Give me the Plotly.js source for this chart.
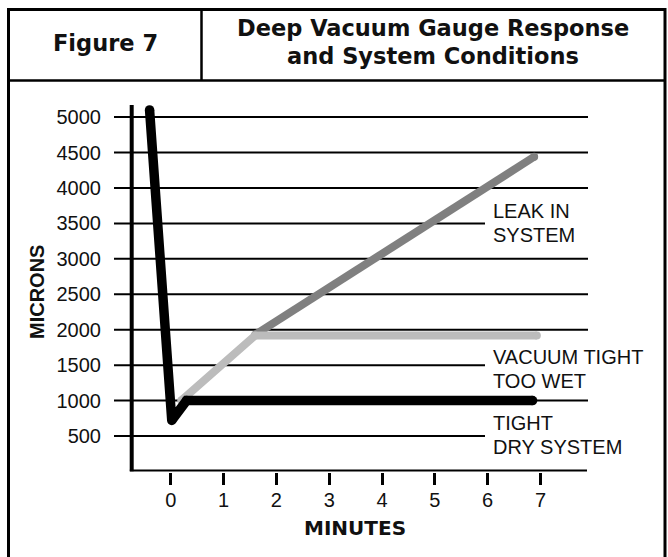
<!DOCTYPE html>
<html>
<head>
<meta charset="utf-8">
<script src="https://cdn.plot.ly/plotly-3.0.1.min.js"></script>
<style>html,body{margin:0;padding:0;background:#fff;}#chart{width:668px;height:557px;}</style>
</head>
<body>
<div id="chart"></div>
<script>
// ---- data ----
const xTickVals = [0, 1, 2, 3, 4, 5, 6, 7];
const yTickVals = [500, 1000, 1500, 2000, 2500, 3000, 3500, 4000, 4500, 5000];
const shortGridVals = [500, 1500, 3500];

const tightX = [-0.40, 0.02, 0.30, 6.85];
const tightY = [5100, 720, 1000, 1000];

const wetX = [0.20, 1.60, 6.93];
const wetY = [1000, 1920, 1920];

const leakX = [1.60, 6.88];
const leakY = [1930, 4440];

const leakLabel = ["LEAK IN", "SYSTEM"];
const wetLabel = ["VACUUM TIGHT", "TOO WET"];
const tightLabel = ["TIGHT", "DRY SYSTEM"];

const figureLabel = "Figure 7";
const titleLines = ["Deep Vacuum Gauge Response", "and System Conditions"];
const xTitle = "MINUTES";
const yTitle = "MICRONS";

// ---- layout helpers ----
const W = 668, H = 557;
const px = v => v / W;
const py = v => 1 - v / H;
const X0 = 170.7, XS = 52.83;       // pixel of x=0, px per minute
const Y0 = 471.5, YS = 0.070889;    // pixel of y=0, px per micron
const xv = p => (p - X0) / XS;
const yv = p => (Y0 - p) / YS;

const xMin = xv(114), xMax = xv(588), shortEnd = xv(485);
const yAxisX = xv(131.7), yAxisTop = yv(105), xAxisEnd = xv(587);

const bodyFont = "Liberation Sans, Arial, Helvetica, sans-serif";
const headFont = "DejaVu Sans, Verdana, sans-serif";

function lineTrace(x, y, color, width) {
  return {
    x: x, y: y, type: "scatter", mode: "lines+markers",
    line: {color: color, width: width},
    marker: {color: color, size: width, line: {width: 0}},
    hoverinfo: "skip", showlegend: false, cliponaxis: false
  };
}

const traces = [
  lineTrace(leakX, leakY, "#808080", 8),
  lineTrace(wetX, wetY, "#bcbcbc", 8),
  lineTrace(tightX, tightY, "#000000", 9.5)
];

const shapes = [];
// gridlines
yTickVals.forEach(v => {
  shapes.push({type: "line", xref: "x", yref: "y", x0: xMin, x1: shortGridVals.includes(v) ? shortEnd : xMax,
    y0: v, y1: v, line: {color: "#000", width: 2}, layer: "below"});
});
// axis lines
shapes.push({type: "line", xref: "x", yref: "y", x0: yAxisX, x1: yAxisX, y0: 0, y1: yAxisTop,
  line: {color: "#000", width: 4}, layer: "below"});
shapes.push({type: "line", xref: "x", yref: "y", x0: yAxisX - 0.035, x1: xAxisEnd, y0: 0, y1: 0,
  line: {color: "#000", width: 4}, layer: "below"});
// frame
shapes.push({type: "rect", xref: "paper", yref: "paper", x0: px(8.5), x1: px(665), y0: py(9.5), y1: -0.02,
  line: {color: "#000", width: 3}, fillcolor: "rgba(0,0,0,0)", layer: "below"});
shapes.push({type: "line", xref: "paper", yref: "paper", x0: px(8.5), x1: px(665), y0: py(80.5), y1: py(80.5),
  line: {color: "#000", width: 2.5}, layer: "below"});
shapes.push({type: "line", xref: "paper", yref: "paper", x0: px(201.5), x1: px(201.5), y0: py(9.5), y1: py(80.5),
  line: {color: "#000", width: 2.5}, layer: "below"});

const annotations = [];
function ann(text, x, y, font, xanchor, extra) {
  annotations.push(Object.assign({text: text, xref: "paper", yref: "paper", x: px(x), y: py(y),
    xanchor: xanchor || "center", yanchor: "middle", showarrow: false, font: font, borderpad: 0}, extra || {}));
}
const lblFont = {family: bodyFont, size: 20, color: "#111"};
const headF = {family: headFont, size: 22.5, color: "#111"};

ann("<b>" + figureLabel + "</b>", 105.5, 43.5, headF);
ann("<b>" + titleLines[0] + "</b>", 433, 28, headF);
ann("<b>" + titleLines[1] + "</b>", 433, 56, headF);

ann(leakLabel[0], 492, 211.5, lblFont, "left");
ann(leakLabel[1], 492, 234.5, lblFont, "left");
ann(wetLabel[0], 492, 356.5, lblFont, "left");
ann(wetLabel[1], 492, 380.5, lblFont, "left");
ann(tightLabel[0], 492, 422.5, lblFont, "left");
ann(tightLabel[1], 492, 446.5, lblFont, "left");

ann("<b>" + xTitle + "</b>", 355, 527.5, {family: headFont, size: 20, color: "#111"});
ann("<b>" + yTitle + "</b>", 37, 292, {family: bodyFont, size: 20, color: "#111"}, "center", {textangle: -90});

const layout = {
  width: W, height: H,
  margin: {l: 0, r: 0, t: 0, b: 0},
  paper_bgcolor: "#fff", plot_bgcolor: "rgba(0,0,0,0)",
  xaxis: {
    domain: [px(114), px(588)], range: [xMin, xMax],
    tickvals: xTickVals, ticktext: xTickVals.map(String),
    ticks: "outside", ticklen: 12, tickwidth: 3, tickcolor: "#000",
    showgrid: false, zeroline: false, showline: false,
    tickfont: {family: bodyFont, size: 20, color: "#111"}, ticklabelstandoff: -2,
    fixedrange: true
  },
  yaxis: {
    domain: [py(471.5), py(100)], range: [0, yv(100)],
    tickvals: yTickVals, ticktext: yTickVals.map(String),
    ticks: "", showgrid: false, zeroline: false, showline: false,
    tickfont: {family: bodyFont, size: 20, color: "#111"}, ticklabelstandoff: 12,
    fixedrange: true
  },
  shapes: shapes,
  annotations: annotations,
  showlegend: false
};

Plotly.newPlot("chart", traces, layout, {staticPlot: true, displayModeBar: false});
</script>
</body>
</html>
